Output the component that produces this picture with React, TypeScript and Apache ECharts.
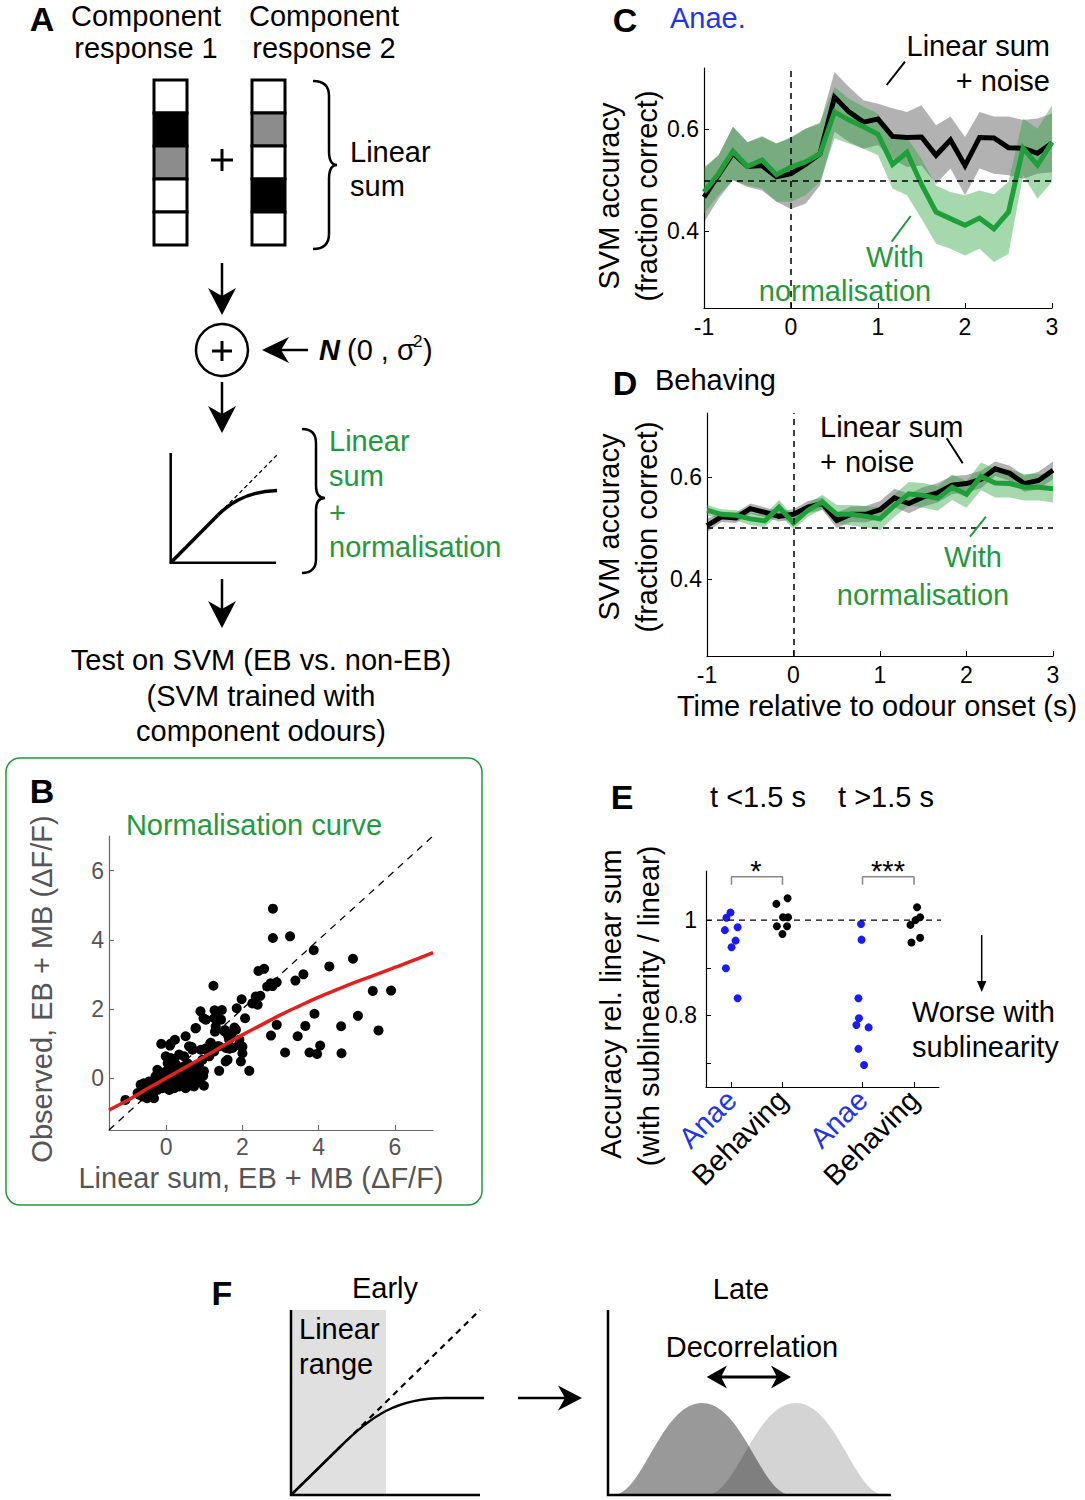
import React, { useEffect, useRef } from 'react';
import * as echarts from 'echarts';

const FONT = '"Liberation Sans", Arial, Helvetica, sans-serif';
const GREEN = '#22993c';
const GREEN_LINE = '#1f9f3a';
const BLUE_TXT = '#1f35e8';
const BLUE_DOT = '#1a1aff';

// ---------- Panel C / D : time axis ----------
const time = [-1, -0.833, -0.667, -0.5, -0.333, -0.167, 0, 0.167, 0.333, 0.5, 0.667, 0.833, 1, 1.167, 1.333, 1.5, 1.667, 1.833, 2, 2.167, 2.333, 2.5, 2.667, 2.833, 3];

// Panel C (anaesthetised)
const anaeLinear = [0.467, 0.510, 0.553, 0.527, 0.529, 0.507, 0.513, 0.531, 0.552, 0.663, 0.634, 0.614, 0.620, 0.586, 0.584, 0.585, 0.549, 0.579, 0.529, 0.584, 0.583, 0.564, 0.563, 0.553, 0.573];
const anaeLinearHi = [0.523, 0.549, 0.605, 0.575, 0.585, 0.572, 0.583, 0.601, 0.611, 0.712, 0.683, 0.657, 0.650, 0.641, 0.634, 0.647, 0.608, 0.625, 0.585, 0.634, 0.625, 0.625, 0.618, 0.621, 0.631];
const anaeLinearLo = [0.418, 0.464, 0.500, 0.487, 0.480, 0.458, 0.444, 0.454, 0.490, 0.595, 0.575, 0.562, 0.569, 0.542, 0.526, 0.529, 0.493, 0.523, 0.471, 0.523, 0.513, 0.510, 0.503, 0.513, 0.516];
const anaeNorm = [0.477, 0.513, 0.557, 0.527, 0.540, 0.511, 0.526, 0.536, 0.552, 0.634, 0.618, 0.605, 0.590, 0.531, 0.555, 0.492, 0.438, 0.425, 0.412, 0.426, 0.405, 0.438, 0.563, 0.530, 0.575];
const anaeNormHi = [0.526, 0.549, 0.605, 0.574, 0.587, 0.572, 0.585, 0.601, 0.614, 0.683, 0.660, 0.644, 0.631, 0.582, 0.584, 0.542, 0.490, 0.477, 0.471, 0.480, 0.473, 0.497, 0.621, 0.601, 0.647];
const anaeNormLo = [0.435, 0.471, 0.500, 0.490, 0.484, 0.458, 0.458, 0.471, 0.497, 0.582, 0.572, 0.562, 0.549, 0.484, 0.471, 0.425, 0.376, 0.366, 0.353, 0.366, 0.340, 0.356, 0.510, 0.464, 0.497];

// Panel D (behaving)
const behLinear = [0.505, 0.522, 0.520, 0.538, 0.531, 0.523, 0.527, 0.541, 0.548, 0.515, 0.527, 0.527, 0.536, 0.559, 0.548, 0.561, 0.569, 0.584, 0.587, 0.595, 0.616, 0.607, 0.587, 0.593, 0.613];
const behLinearHi = [0.518, 0.532, 0.530, 0.548, 0.541, 0.533, 0.537, 0.553, 0.560, 0.530, 0.542, 0.543, 0.553, 0.577, 0.567, 0.580, 0.588, 0.602, 0.604, 0.612, 0.630, 0.622, 0.603, 0.610, 0.630];
const behLinearLo = [0.492, 0.512, 0.510, 0.528, 0.521, 0.513, 0.517, 0.529, 0.536, 0.500, 0.512, 0.511, 0.519, 0.541, 0.529, 0.542, 0.550, 0.566, 0.570, 0.578, 0.602, 0.592, 0.571, 0.576, 0.596];
const behNorm = [0.535, 0.527, 0.525, 0.518, 0.514, 0.541, 0.510, 0.535, 0.551, 0.527, 0.527, 0.523, 0.518, 0.544, 0.567, 0.564, 0.558, 0.580, 0.566, 0.601, 0.588, 0.587, 0.580, 0.580, 0.577];
const behNormHi = [0.545, 0.537, 0.535, 0.530, 0.526, 0.555, 0.522, 0.548, 0.565, 0.545, 0.545, 0.543, 0.540, 0.566, 0.590, 0.588, 0.582, 0.605, 0.592, 0.628, 0.616, 0.614, 0.606, 0.606, 0.604];
const behNormLo = [0.525, 0.517, 0.515, 0.506, 0.502, 0.527, 0.498, 0.522, 0.537, 0.509, 0.505, 0.501, 0.496, 0.522, 0.544, 0.540, 0.534, 0.555, 0.540, 0.574, 0.560, 0.560, 0.554, 0.554, 0.550];

// ---------- Panel B : scatter ----------
const scatterPts = [
  [2.8, 4.9], [2.8, 4.05], [3.25, 4.1], [3.87, 3.7], [2.42, 3.1], [2.57, 3.16], [4.28, 3.23], [4.9, 3.45],
  [3.6, 3.0], [3.39, 2.82], [2.9, 2.77], [2.79, 2.66], [2.47, 2.38], [2.4, 2.12], [5.42, 2.52], [5.9, 2.53],
  [1.24, 2.67], [1.98, 2.28], [1.85, 2.02], [2.07, 1.73], [3.89, 1.86], [5.03, 1.8], [2.9, 1.54], [3.65, 1.51],
  [4.59, 1.5], [2.75, 1.23], [3.45, 1.21], [5.57, 1.38], [4.04, 0.94], [3.12, 0.74], [3.76, 0.74], [3.96, 0.7],
  [4.6, 0.72], [1.96, 0.48], [2.18, 0.21],
  [0.9, 1.93], [1.27, 1.96], [1.46, 1.97], [0.98, 1.73], [1.32, 1.78], [0.77, 1.44], [1.28, 1.34], [1.54, 1.39],
  [1.79, 1.46], [1.63, 1.21], [1.72, 1.29], [0.51, 1.21], [0.23, 1.11], [-0.13, 0.99], [0.1, 0.94], [0.67, 0.9],
  [1.04, 0.86], [1.39, 0.92], [1.66, 0.85], [1.9, 0.95], [2.0, 0.91], [1.56, 0.48], [1.39, 0.21], [0.97, 0.07],
  [0.99, -0.22], [-1.07, -0.63],
  [-0.59, -0.15], [-0.62, -0.34], [-0.53, -0.43], [-0.45, -0.24], [-0.36, -0.39], [-0.71, -0.48], [-0.4, -0.53],
  [-0.23, -0.34], [-0.14, -0.15], [-0.1, 0], [-0.14, 0.14], [-0.01, 0.19], [0.04, 0.43], [-0.01, 0.63], [0.12, 0.58],
  [0.21, 0.53], [0.26, 0.39], [0.17, 0.29], [0.08, 0.1], [0.3, 0.14], [0.38, 0.29], [0.38, 0], [0.51, 0.14],
  [0.6, 0], [0.47, -0.1], [0.3, -0.15], [0.17, -0.1], [-0.01, -0.19], [0.34, -0.24], [0.56, -0.24], [0.69, -0.15],
  [0.78, 0], [0.78, 0.24], [0.86, 0.39], [0.95, 0.53], [0.91, 0.82], [0.69, 0.82], [0.6, 0.92], [0.47, 0.63],
  [0.34, 0.68], [0.12, 1.0], [0.78, 1.45], [1.04, 0.82], [1.13, 0.63], [1.26, 0.77], [1.35, 0.92], [1.17, 1.02],
  [0.99, 0.2], [0.95, 0.05], [1.61, 0.53], [1.57, 0.87], [1.74, 0.87], [1.65, 1.11], [1.83, 1.4], [1.92, 1.11],
  [1.96, 0.92], [2.0, 0.72], [1.53, 1.35], [1.44, 1.69], [1.26, 1.73], [1.3, 1.49], [1.04, 1.69], [2.26, 2.16],
  [2.35, 2.36], [2.65, 2.65], [2.74, 2.74],
  [-0.37, -0.1], [-0.28, 0.05], [-0.23, 0.24], [-0.19, -0.1], [-0.06, -0.1], [0.03, 0], [0.12, 0.19], [0.26, 0.05],
  [0.43, 0.1], [0.47, 0.34], [0.56, 0.43], [0.65, 0.34], [0.69, 0.14], [0.82, 0.1], [0.86, -0.1], [0.73, -0.24],
  [0.51, -0.29], [0.38, -0.15], [0.21, -0.29], [0.08, -0.34], [-0.1, -0.29], [-0.32, -0.58], [-0.5, -0.58],
  [-0.62, -0.53], [-0.75, -0.43], [-0.67, -0.19], [-0.45, -0.1], [-0.28, -0.19]
];
const curveX = [-1.5, -1, -0.5, 0, 0.5, 1, 1.5, 2, 2.5, 3, 3.5, 4, 4.5, 5, 5.5, 6, 6.5, 7];
const curveY = [-0.92, -0.63, -0.31, 0, 0.31, 0.62, 0.94, 1.25, 1.54, 1.83, 2.09, 2.34, 2.57, 2.79, 2.99, 3.2, 3.41, 3.63];
const identityRange = [-1.5, 7];
const bTicks = [0, 2, 4, 6];

// ---------- Panel E ----------
const eGroupX = [1, 2, 3.57, 4.58];
const eGroupLabels = ['Anae', 'Behaving', 'Anae', 'Behaving'];
const anaeEarly = [1.016, 1.005, 0.979, 0.985, 0.957, 0.943, 0.899, 0.836];
const anaeEarlyJit = [-0.02, -0.1, -0.13, 0.12, 0.08, 0, -0.11, 0.12];
const behEarly = [1.034, 1.046, 1.006, 1.006, 0.987, 0.987, 0.971];
const behEarlyJit = [-0.12, 0.1, 0.01, 0.11, -0.11, 0.09, 0];
const anaeLate = [0.992, 0.959, 0.836, 0.794, 0.780, 0.775, 0.730, 0.696];
const anaeLateJit = [-0.03, -0.02, -0.08, -0.07, -0.12, 0.12, -0.08, 0.03];
const behLate = [1.027, 1.006, 1.0, 0.990, 0.953, 0.963];
const behLateJit = [0.06, 0.12, 0.03, -0.07, -0.05, 0.12];

// ---------- shapes ----------
echarts.graphic.registerShape('brace1', echarts.graphic.extendPath('M313,81 Q329,81 329,96 L329,151 Q329,165 337,165 Q329,165 329,179 L329,234 Q329,249 313,249', {}));
echarts.graphic.registerShape('brace2', echarts.graphic.extendPath('M302,429 Q316,429 316,443 L316,486 Q316,498 325,498 Q316,498 316,510 L316,559 Q316,573 302,573', {}));
echarts.graphic.registerShape('bell', echarts.graphic.extendPath('M0,92 C30,92 48,0 89,0 C130,0 148,92 178,92 Z', {}));

function txt(x: number, y: number, text: string, size: number, o: any = {}) {
  return {
    type: 'text', x, y, rotation: o.rot || 0, z: 50,
    style: {
      text, font: `${o.italic ? 'italic ' : ''}${o.bold ? 'bold ' : ''}${size}px ${FONT}`,
      fill: o.color || '#000', align: o.align || 'left', verticalAlign: 'middle'
    }
  };
}
function ln(x1: number, y1: number, x2: number, y2: number, w = 2.5, color = '#000', dash?: number[]) {
  return { type: 'line', z: 40, shape: { x1, y1, x2, y2 }, style: { stroke: color, lineWidth: w, lineDash: dash || null } };
}
function poly(points: number[][], fill = '#000') {
  return { type: 'polygon', z: 40, shape: { points }, style: { fill } };
}
function headDown(x: number, tip: number) {
  return poly([[x, tip], [x - 14, tip - 27], [x, tip - 19], [x + 14, tip - 27]]);
}
function cell(x: number, y: number, fill: string) {
  return { type: 'rect', z: 40, shape: { x, y, width: 33, height: 33 }, style: { fill, stroke: '#000', lineWidth: 3 } };
}

function band(xi: number, lo: number[], hi: number[], fill: string) {
  return {
    type: 'custom', xAxisIndex: xi, yAxisIndex: xi, silent: true,
    data: time.map((t, i) => [t, lo[i], hi[i]]),
    encode: { x: 0, y: [1, 2] },
    renderItem: (params: any, api: any) => {
      if (params.dataIndex !== 0) return null;
      const pts: number[][] = [];
      for (let i = 0; i < time.length; i++) pts.push(api.coord([time[i], hi[i]]));
      for (let i = time.length - 1; i >= 0; i--) pts.push(api.coord([time[i], lo[i]]));
      return { type: 'polygon', shape: { points: pts }, style: { fill } };
    }
  };
}
function tsLine(xi: number, vals: number[], color: string, w: number) {
  return {
    type: 'line', xAxisIndex: xi, yAxisIndex: xi, symbol: 'none', silent: true,
    data: time.map((t, i) => [t, vals[i]]),
    lineStyle: { color, width: w, join: 'miter' }
  };
}
function refLines(xi: number) {
  return {
    type: 'line', xAxisIndex: xi, yAxisIndex: xi, data: [], silent: true,
    markLine: {
      silent: true, symbol: 'none', label: { show: false },
      lineStyle: { type: [6, 5], color: '#000', width: 1.5 },
      data: [{ yAxis: 0.5 }, { xAxis: 0 }]
    }
  };
}

function timeXAxis(gi: number) {
  return {
    gridIndex: gi, type: 'value', min: -1, max: 3, interval: 1,
    axisLine: { onZero: false, lineStyle: { color: '#000', width: 1.2 } },
    axisTick: { inside: true, length: 5, lineStyle: { color: '#000' } },
    axisLabel: { fontSize: 23, color: '#000', fontFamily: FONT, margin: 7 },
    splitLine: { show: false }
  };
}
function accYAxis(gi: number, max: number) {
  return {
    gridIndex: gi, type: 'value', min: 0.25, max,
    axisLine: { onZero: false, lineStyle: { color: '#000', width: 1.2 } },
    axisTick: { inside: true, length: 5, customValues: [0.4, 0.6], lineStyle: { color: '#000' } },
    axisLabel: { customValues: [0.4, 0.6], fontSize: 23, color: '#000', fontFamily: FONT, margin: 5, formatter: (v: number) => v.toFixed(1) },
    splitLine: { show: false }
  };
}

function buildGraphic() {
  const g: any[] = [];
  const L = 34;
  // ---- Panel A ----
  g.push(txt(42, 19, 'A', L, { bold: true, align: 'center' }));
  g.push(txt(146, 16, 'Component', 29, { align: 'center' }));
  g.push(txt(146, 48, 'response 1', 29, { align: 'center' }));
  g.push(txt(324, 16, 'Component', 29, { align: 'center' }));
  g.push(txt(324, 48, 'response 2', 29, { align: 'center' }));
  const c1 = ['#fff', '#000', '#8c8c8c', '#fff', '#fff'];
  const c2 = ['#fff', '#8c8c8c', '#fff', '#000', '#fff'];
  c1.forEach((c, i) => g.push(cell(154, 80 + i * 33, c)));
  c2.forEach((c, i) => g.push(cell(252, 80 + i * 33, c)));
  g.push(ln(211, 160, 233, 160, 3), ln(222, 149, 222, 171, 3));
  g.push({ type: 'brace1', z: 40, x: 0, y: 0, style: { stroke: '#000', lineWidth: 2.5, fill: 'none' } });
  g.push(txt(350, 152, 'Linear', 29));
  g.push(txt(350, 186, 'sum', 29));
  g.push(ln(222, 263, 222, 300), headDown(222, 315));
  g.push({ type: 'circle', z: 40, shape: { cx: 222, cy: 350, r: 26 }, style: { fill: 'none', stroke: '#000', lineWidth: 2.5 } });
  g.push(ln(212, 351, 232, 351, 3), ln(222, 341, 222, 361, 3));
  g.push(ln(280, 350, 308, 350), poly([[262, 350], [289, 337], [281, 350], [289, 363]]));
  g.push(txt(319, 350, 'N', 29, { bold: true, italic: true }));
  g.push(txt(347, 350, '(0 , \u03c3', 29));
  g.push(txt(413, 341, '2', 17));
  g.push(txt(423, 350, ')', 29));
  g.push(ln(222, 382, 222, 420), headDown(222, 433));
  g.push({ type: 'polyline', z: 40, shape: { points: [[170.7, 453], [170.7, 562.7], [276, 562.7]] }, style: { stroke: '#000', lineWidth: 2.5, fill: 'none' } });
  g.push(ln(170.7, 562.7, 277, 455, 1.3, '#000', [4, 3]));
  g.push(ln(170.7, 562.7, 218, 515, 3.5));
  g.push({ type: 'bezierCurve', z: 40, shape: { x1: 218, y1: 515, cpx1: 236, cpy1: 497, cpx2: 256, cpy2: 491, x2: 277, y2: 490.5 }, style: { stroke: '#000', lineWidth: 3.5, fill: 'none' } });
  g.push({ type: 'brace2', z: 40, x: 0, y: 0, style: { stroke: '#000', lineWidth: 2.5, fill: 'none' } });
  g.push(txt(329, 441, 'Linear', 29, { color: GREEN }));
  g.push(txt(329, 476, 'sum', 29, { color: GREEN }));
  g.push(txt(329, 513, '+', 29, { color: GREEN }));
  g.push(txt(329, 547, 'normalisation', 29, { color: GREEN }));
  g.push(ln(222, 579, 222, 615), headDown(222, 628));
  g.push(txt(261, 660, 'Test on SVM (EB vs. non-EB)', 29, { align: 'center' }));
  g.push(txt(261, 696, '(SVM trained with', 29, { align: 'center' }));
  g.push(txt(261, 731, 'component odours)', 29, { align: 'center' }));

  // ---- Panel B ----
  g.push({ type: 'rect', z: 0, shape: { x: 6, y: 758, width: 476, height: 447, r: 14 }, style: { fill: 'none', stroke: GREEN, lineWidth: 1.5 } });
  g.push(txt(42, 791, 'B', L, { bold: true, align: 'center' }));
  g.push(txt(254, 825, 'Normalisation curve', 29, { color: GREEN, align: 'center' }));
  g.push(txt(261, 1178, 'Linear sum, EB + MB (\u0394F/F)', 29, { color: '#555', align: 'center' }));
  g.push(txt(42, 989, 'Observed, EB + MB (\u0394F/F)', 29, { color: '#555', align: 'center', rot: Math.PI / 2 }));

  // ---- Panel C ----
  g.push(txt(625, 20, 'C', L, { bold: true, align: 'center' }));
  g.push(txt(670, 18, 'Anae.', 29, { color: BLUE_TXT }));
  g.push(txt(609, 196, 'SVM accuracy', 29, { align: 'center', rot: Math.PI / 2 }));
  g.push(txt(647, 196, '(fraction correct)', 29, { align: 'center', rot: Math.PI / 2 }));
  g.push(txt(1050, 46, 'Linear sum', 29, { align: 'right' }));
  g.push(txt(1050, 81, '+ noise', 29, { align: 'right' }));
  g.push(ln(886.7, 85, 905, 61.7, 2));
  g.push(txt(895, 257, 'With', 29, { color: GREEN, align: 'center' }));
  g.push(txt(845, 291, 'normalisation', 29, { color: GREEN, align: 'center' }));
  g.push(ln(891.7, 241.7, 910.7, 216, 2, GREEN));

  // ---- Panel D ----
  g.push(txt(625, 383, 'D', L, { bold: true, align: 'center' }));
  g.push(txt(655, 380, 'Behaving', 29));
  g.push(txt(609, 527, 'SVM accuracy', 29, { align: 'center', rot: Math.PI / 2 }));
  g.push(txt(647, 527, '(fraction correct)', 29, { align: 'center', rot: Math.PI / 2 }));
  g.push(txt(820, 427, 'Linear sum', 29));
  g.push(txt(820, 462, '+ noise', 29));
  g.push(ln(946.7, 438.3, 962.7, 463.3, 2));
  g.push(txt(973, 557, 'With', 29, { color: GREEN, align: 'center' }));
  g.push(txt(923, 595, 'normalisation', 29, { color: GREEN, align: 'center' }));
  g.push(ln(970, 536.7, 986, 516.7, 2, GREEN));
  g.push(txt(877, 706, 'Time relative to odour onset (s)', 29, { align: 'center' }));

  // ---- Panel E ----
  g.push(txt(622, 797, 'E', L, { bold: true, align: 'center' }));
  g.push(txt(758, 797, 't <1.5 s', 29, { align: 'center' }));
  g.push(txt(886, 797, 't >1.5 s', 29, { align: 'center' }));
  g.push(txt(756, 871, '*', 29, { align: 'center' }));
  g.push(txt(888, 871, '***', 29, { align: 'center' }));
  g.push(txt(611, 1004, 'Accuracy rel. linear sum', 29, { align: 'center', rot: Math.PI / 2 }));
  g.push(txt(649, 1006, '(with sublinearity / linear)', 29, { align: 'center', rot: Math.PI / 2 }));
  g.push(ln(981.7, 935, 981.7, 986, 1.5));
  g.push(poly([[977, 981], [981.7, 992], [986.4, 981]]));
  g.push(txt(912, 1012, 'Worse with', 29));
  g.push(txt(912, 1047, 'sublinearity', 29));

  // ---- Panel F ----
  g.push(txt(222, 1293, 'F', L, { bold: true, align: 'center' }));
  g.push(txt(385, 1288, 'Early', 29, { align: 'center' }));
  g.push({ type: 'rect', z: 30, shape: { x: 291, y: 1310, width: 95, height: 185 }, style: { fill: '#e0e0e0' } });
  g.push(txt(299, 1329, 'Linear', 29));
  g.push(txt(299, 1364, 'range', 29));
  g.push(ln(291, 1495, 480, 1310, 2.2, '#000', [6, 5]));
  g.push(ln(291, 1495, 340, 1447, 2.5));
  g.push({ type: 'bezierCurve', z: 40, shape: { x1: 340, y1: 1447, cpx1: 372, cpy1: 1415, cpx2: 398, cpy2: 1398, x2: 445, y2: 1398 }, style: { stroke: '#000', lineWidth: 2.5, fill: 'none' } });
  g.push(ln(445, 1398, 484, 1398, 2.5));
  g.push({ type: 'polyline', z: 40, shape: { points: [[291, 1310], [291, 1495], [480, 1495]] }, style: { stroke: '#000', lineWidth: 2.5, fill: 'none' } });
  g.push(ln(518, 1398, 566, 1398, 2.5), poly([[582, 1398], [558, 1385.5], [565, 1398], [558, 1410.5]]));
  g.push(txt(741, 1289, 'Late', 29, { align: 'center' }));
  g.push({ type: 'bell', z: 30, x: 613, y: 1403, style: { fill: 'rgba(0,0,0,0.40)', stroke: 'none' } });
  g.push({ type: 'bell', z: 31, x: 706.7, y: 1403, style: { fill: 'rgba(0,0,0,0.17)', stroke: 'none' } });
  g.push({ type: 'polyline', z: 40, shape: { points: [[608, 1310], [608, 1495], [891, 1495]] }, style: { stroke: '#000', lineWidth: 2.5, fill: 'none' } });
  g.push(txt(752, 1347, 'Decorrelation', 29, { align: 'center' }));
  g.push(ln(718, 1377, 780, 1377, 3));
  g.push(poly([[706.7, 1377], [727, 1365.5], [721, 1377], [727, 1388.5]]));
  g.push(poly([[791, 1377], [771, 1365.5], [777, 1377], [771, 1388.5]]));
  return g;
}

function buildOption() {
  const eAxisCommon = { onZero: false, lineStyle: { color: '#000', width: 1.2 } };
  return {
    animation: false,
    backgroundColor: '#fff',
    grid: [
      { left: 109, top: 836, width: 324, height: 294 },
      { left: 704, top: 68, width: 348, height: 240 },
      { left: 707, top: 413, width: 346, height: 243 },
      { left: 706, top: 871, width: 233, height: 216 }
    ],
    xAxis: [
      {
        gridIndex: 0, type: 'value', min: identityRange[0], max: identityRange[1],
        axisLine: { onZero: false, lineStyle: { color: '#666', width: 1.2 } },
        axisTick: { inside: true, length: 5, customValues: bTicks, lineStyle: { color: '#666' } },
        axisLabel: { customValues: bTicks, fontSize: 23, color: '#555', fontFamily: FONT, margin: 5 },
        splitLine: { show: false }
      },
      timeXAxis(1),
      timeXAxis(2),
      {
        gridIndex: 3, type: 'value', min: 0.5, max: 5.07,
        axisLine: eAxisCommon,
        axisTick: { inside: true, length: 5, customValues: eGroupX, lineStyle: { color: '#000' } },
        axisLabel: {
          customValues: eGroupX, rotate: 45, margin: 8,
          formatter: (v: number) => {
            let idx = 0;
            eGroupX.forEach((p, i) => { if (Math.abs(p - v) < Math.abs(eGroupX[idx] - v)) idx = i; });
            return idx % 2 === 0 ? `{a|${eGroupLabels[idx]}}` : `{b|${eGroupLabels[idx]}}`;
          },
          rich: {
            a: { color: BLUE_TXT, fontSize: 29, fontFamily: FONT },
            b: { color: '#000', fontSize: 29, fontFamily: FONT }
          }
        },
        splitLine: { show: false }
      }
    ],
    yAxis: [
      {
        gridIndex: 0, type: 'value', min: identityRange[0], max: identityRange[1],
        axisLine: { onZero: false, lineStyle: { color: '#666', width: 1.2 } },
        axisTick: { inside: true, length: 5, customValues: bTicks, lineStyle: { color: '#666' } },
        axisLabel: { customValues: bTicks, fontSize: 23, color: '#555', fontFamily: FONT, margin: 5 },
        splitLine: { show: false }
      },
      accYAxis(1, 0.72),
      accYAxis(2, 0.725),
      {
        gridIndex: 3, type: 'value', min: 0.65, max: 1.103,
        axisLine: eAxisCommon,
        axisTick: { inside: true, length: 5, customValues: [0.7, 0.8, 0.9, 1.0], lineStyle: { color: '#000' } },
        axisLabel: { customValues: [0.8, 1.0], fontSize: 23, color: '#000', fontFamily: FONT, margin: 9, formatter: (v: number) => (Math.abs(v - 1) < 1e-9 ? '1' : v.toFixed(1)) },
        splitLine: { show: false }
      }
    ],
    series: [
      // Panel B
      {
        type: 'line', xAxisIndex: 0, yAxisIndex: 0, symbol: 'none', silent: true,
        data: [[identityRange[0], identityRange[0]], [identityRange[1], identityRange[1]]],
        lineStyle: { color: '#000', width: 1.3, type: [7, 6] }
      },
      {
        type: 'scatter', xAxisIndex: 0, yAxisIndex: 0, silent: true, symbolSize: 10,
        itemStyle: { color: '#000', opacity: 1 }, data: scatterPts
      },
      {
        type: 'line', xAxisIndex: 0, yAxisIndex: 0, symbol: 'none', silent: true, smooth: 0.4,
        data: curveX.map((x, i) => [x, curveY[i]]),
        lineStyle: { color: '#e3201b', width: 3.5 }
      },
      // Panel C
      band(1, anaeLinearLo, anaeLinearHi, 'rgba(0,0,0,0.30)'),
      band(1, anaeNormLo, anaeNormHi, 'rgba(40,165,60,0.42)'),
      refLines(1),
      tsLine(1, anaeLinear, '#000', 5),
      tsLine(1, anaeNorm, GREEN_LINE, 5),
      // Panel D
      band(2, behLinearLo, behLinearHi, 'rgba(0,0,0,0.30)'),
      band(2, behNormLo, behNormHi, 'rgba(40,165,60,0.42)'),
      refLines(2),
      tsLine(2, behLinear, '#000', 5),
      tsLine(2, behNorm, GREEN_LINE, 5),
      // Panel E
      {
        type: 'line', xAxisIndex: 3, yAxisIndex: 3, symbol: 'none', silent: true, clip: false,
        data: [[0.5, 1], [5.97, 1]], lineStyle: { color: '#000', width: 1.4, type: [6, 5] }
      },
      {
        type: 'line', xAxisIndex: 3, yAxisIndex: 3, symbol: 'none', silent: true, clip: false,
        data: [[eGroupX[0], 1.074], [eGroupX[0], 1.091], [eGroupX[1], 1.091], [eGroupX[1], 1.074]],
        lineStyle: { color: '#888', width: 1.5 }
      },
      {
        type: 'line', xAxisIndex: 3, yAxisIndex: 3, symbol: 'none', silent: true, clip: false,
        data: [[eGroupX[2], 1.074], [eGroupX[2], 1.091], [eGroupX[3], 1.091], [eGroupX[3], 1.074]],
        lineStyle: { color: '#888', width: 1.5 }
      },
      {
        type: 'scatter', xAxisIndex: 3, yAxisIndex: 3, silent: true, symbolSize: 8,
        itemStyle: { color: BLUE_DOT, opacity: 1 },
        data: [
          ...anaeEarly.map((v, i) => [eGroupX[0] + anaeEarlyJit[i], v]),
          ...anaeLate.map((v, i) => [eGroupX[2] + anaeLateJit[i], v])
        ]
      },
      {
        type: 'scatter', xAxisIndex: 3, yAxisIndex: 3, silent: true, symbolSize: 8,
        itemStyle: { color: '#000', opacity: 1 },
        data: [
          ...behEarly.map((v, i) => [eGroupX[1] + behEarlyJit[i], v]),
          ...behLate.map((v, i) => [eGroupX[3] + behLateJit[i], v])
        ]
      }
    ],
    graphic: buildGraphic()
  };
}

export default function App() {
  const ref = useRef<HTMLDivElement>(null);
  useEffect(() => {
    if (!ref.current) return;
    const chart = echarts.init(ref.current, null, { renderer: 'svg' });
    chart.setOption(buildOption() as any);
    return () => chart.dispose();
  }, []);
  return (
    <div
      ref={ref}
      style={{ position: 'absolute', left: 0, top: 0, width: 1085, height: 1500, background: '#fff' }}
    />
  );
}
